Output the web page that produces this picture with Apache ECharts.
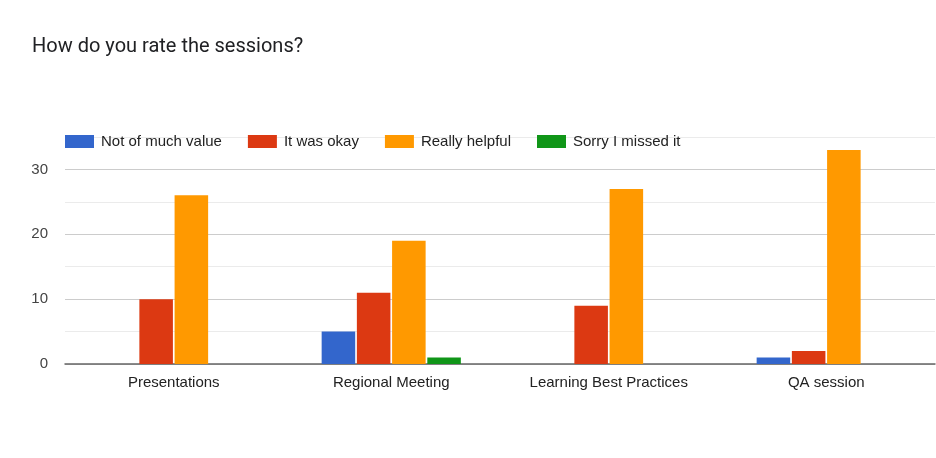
<!DOCTYPE html>
<html>
<head>
<meta charset="utf-8">
<script src="https://cdn.jsdelivr.net/npm/echarts@6/dist/echarts.min.js"></script>
<style>
  html, body { margin: 0; padding: 0; background: #fff; }
  #chart { width: 936px; height: 458px; }
</style>
</head>
<body>
<div id="chart"></div>
<script>
const categories = ['Presentations', 'Regional Meeting', 'Learning Best Practices', 'QA session']
const seriesNames = ['Not of much value', 'It was okay', 'Really helpful', 'Sorry I missed it']
const notMuchValue = [0, 5, 0, 1]
const wasOkay = [10, 11, 9, 2]
const reallyHelpful = [26, 19, 27, 33]
const missedIt = [0, 1, 0, 0]
const yTickLabels = [0, 10, 20, 30]

const colors = ['#3366cc', '#dc3912', '#ff9900', '#109618']
const values = [notMuchValue, wasOkay, reallyHelpful, missedIt]

const chart = echarts.init(document.getElementById('chart'), null, { renderer: 'canvas' })

const option = {
  backgroundColor: '#fff',
  animation: false,
  title: {
    text: 'How do you rate the sessions?',
    left: 27,
    top: 32,
    textStyle: { fontFamily: 'Roboto', fontSize: 20, fontWeight: 'normal', color: '#202124' },
  },
  legend: {
    left: 60,
    top: 129,
    itemWidth: 29,
    itemHeight: 13,
    itemGap: 26,
    icon: 'rect',
    textStyle: { fontFamily: 'Liberation Sans', fontSize: 15, color: '#222', padding: [0, 0, 0, 2] },
    data: seriesNames,
  },
  grid: { left: 65, right: 1, top: 137, bottom: 94, containLabel: false },
  xAxis: {
    type: 'category',
    data: categories,
    axisTick: { show: false },
    axisLine: { lineStyle: { color: '#666', width: 1.5 } },
    axisLabel: { margin: 11, fontFamily: 'Liberation Sans', fontSize: 15, color: '#222' },
  },
  yAxis: {
    type: 'value',
    min: 0,
    max: 35,
    interval: 5,
    axisLine: { show: false },
    axisTick: { show: false },
    axisLabel: {
      margin: 17,
      fontFamily: 'Liberation Sans',
      fontSize: 15,
      color: '#444',
      formatter: (v) => (yTickLabels.includes(v) ? String(v) : ''),
    },
    splitLine: { lineStyle: { color: ['#cccccc', '#ebebeb'], width: 1 } },
  },
  series: seriesNames.map((name, i) => ({
    name,
    type: 'bar',
    data: values[i],
    barGap: '5%',
    barCategoryGap: '36%',
    itemStyle: { color: colors[i] },
  })),
}

chart.setOption(option)
</script>
</body>
</html>
